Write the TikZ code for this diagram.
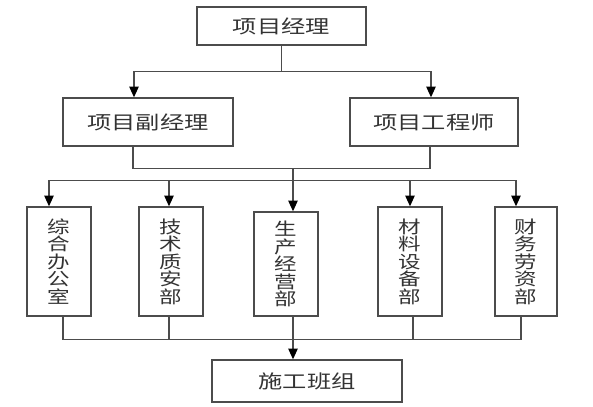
\documentclass[tikz,border=0pt]{standalone}
\usepackage{fontspec}
\newfontfamily\cjk[FakeStretch=1.3]{Noto Sans CJK SC}
\usetikzlibrary{arrows.meta,calc}

\begin{document}
\begin{tikzpicture}[x=0.75pt, y=-0.75pt,
		box/.style={draw=black!70, line width=1pt, inner sep=0pt, text=black!80, font=\cjk\fontsize{14}{14}\selectfont},
		tall/.style={box, align=center, minimum width=48pt, font=\cjk\fontsize{13}{13.1}\selectfont},
		link/.style={draw=black!70, line width=1pt},
		arr/.style={link, -{Triangle[width=7pt, length=8pt, color=black]}}]
		\useasboundingbox (0,0) rectangle (593,407);

		\node[box, minimum width=126.75pt, minimum height=28.5pt] at (281.5,26) (pm) {项目经理\hspace{24pt}};
		\node[box, minimum width=127.5pt, minimum height=36pt] at (148,122) (vpm) {项目副经理};
		\node[box, minimum width=126pt, minimum height=36pt] at (434,122) (eng) {项目工程师};

		\node[tall, minimum height=81.75pt] at (59,261.5) (d1) {综\\合\\办\\公\\室};
		\node[tall, minimum height=81.75pt] at (171,261.5) (d2) {技\\术\\质\\安\\部};
		\node[tall, minimum height=78pt] at (286,264) (d3) {生\\产\\经\\营\\部};
		\node[tall, minimum height=81.75pt] at (410,261.5) (d4) {材\\料\\设\\备\\部};
		\node[tall, minimum width=46.5pt, minimum height=81.75pt] at (526,261.5) (d5) {财\\务\\劳\\资\\部};

		\node[box, minimum width=142.5pt, minimum height=31.5pt] at (307,381) (team) {施工班组};

		% manager to deputies
		\draw[link] (pm.south) -- ++(0,26) coordinate (j1);
		\draw[arr] (j1) -| ($(vpm.north)+(-14,0)$);
		\draw[arr] (j1) -| ($(eng.north)+(-3,0)$);

		% deputies to departments
		\draw[link] ($(vpm.south)+(-15,0)$) -- ++(0,22) coordinate (j2) -| ($(eng.south)+(-4,0)$);
		\coordinate (d3in) at ($(d3.north)+(7,0)$);
		\draw[arr] (d3in |- j2) -- (d3in);
		\draw[link] ($(d1.north)+(-10,-26)$) -- ($(d5.north)+(-10,-26)$);
		\foreach \n/\dx in {d1/-10, d2/-2, d4/0, d5/-10}
			\draw[arr] ($(\n.north)+(\dx,-26)$) -- ($(\n.north)+(\dx,0)$);

		% departments to work teams
		\foreach \n/\dx in {d1/4, d2/-2, d4/3, d5/-5}
			\draw[link] ($(\n.south)+(\dx,0)$) -- ++(0,23);
		\draw[link] ($(d1.south)+(4,23)$) -- ($(d5.south)+(-5,23)$);
		\coordinate (d3out) at ($(d3.south)+(7,0)$);
		\draw[arr] (d3out) -- (d3out |- team.north);
	\end{tikzpicture}
\end{document}
